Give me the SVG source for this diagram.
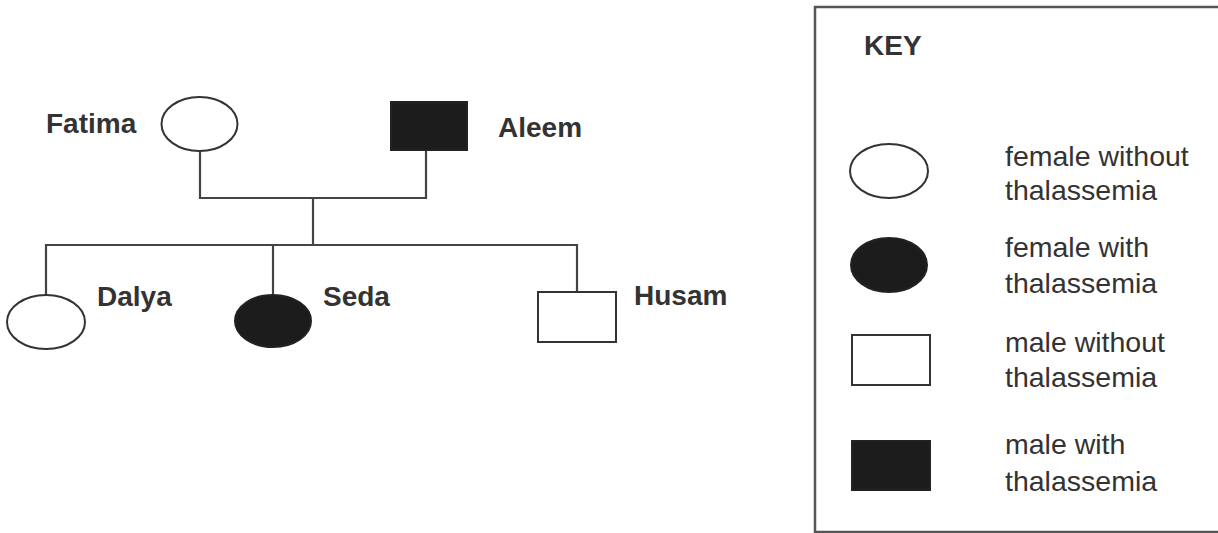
<svg xmlns="http://www.w3.org/2000/svg" width="1218" height="533" viewBox="0 0 1218 533">
<style>
.o{fill:#fff;stroke:#333;stroke-width:2}
.f{fill:#1c1c1c;stroke:#222;stroke-width:2}
.ln{fill:none;stroke:#444;stroke-width:2.2}
.lb{font-family:"Liberation Sans",Arial,sans-serif;font-weight:bold;font-size:28px;fill:#333}
.kt{font-family:"Liberation Sans",Arial,sans-serif;font-size:28.5px;fill:#333}
</style>
<rect width="1218" height="533" fill="#fff"/>
<g id="connectors">
<path class="ln" d="M200,151 V198 H426 V150"/>
<path class="ln" d="M313,198 V245"/>
<path class="ln" d="M46,295 V245 H577 V292"/>
<path class="ln" d="M273,245 V295"/>
</g>
<g id="fatima"><ellipse class="o" cx="199.5" cy="124" rx="38" ry="27"/><text class="lb" x="46" y="133">Fatima</text></g>
<g id="aleem"><rect class="f" x="391" y="102" width="76" height="48"/><text class="lb" x="498" y="137">Aleem</text></g>
<g id="dalya"><ellipse class="o" cx="46" cy="322" rx="39" ry="27"/><text class="lb" x="97" y="306">Dalya</text></g>
<g id="seda"><ellipse class="f" cx="273" cy="321" rx="38" ry="26"/><text class="lb" x="323" y="306">Seda</text></g>
<g id="husam"><rect class="o" x="538" y="292" width="78" height="50"/><text class="lb" x="634" y="305">Husam</text></g>
<g id="key">
<rect x="815" y="7" width="430" height="525" fill="none" stroke="#555" stroke-width="2.5"/>
<text class="lb" x="864" y="55">KEY</text>
<ellipse class="o" cx="889" cy="171" rx="39" ry="27"/>
<text class="kt" x="1005" y="166">female without</text>
<text class="kt" x="1005" y="200">thalassemia</text>
<ellipse class="f" cx="889" cy="265" rx="38" ry="27"/>
<text class="kt" x="1005" y="257">female with</text>
<text class="kt" x="1005" y="293">thalassemia</text>
<rect class="o" x="852" y="335" width="78" height="50"/>
<text class="kt" x="1005" y="352">male without</text>
<text class="kt" x="1005" y="387">thalassemia</text>
<rect class="f" x="852" y="441" width="78" height="49"/>
<text class="kt" x="1005" y="454">male with</text>
<text class="kt" x="1005" y="491">thalassemia</text>
</g>
</svg>
